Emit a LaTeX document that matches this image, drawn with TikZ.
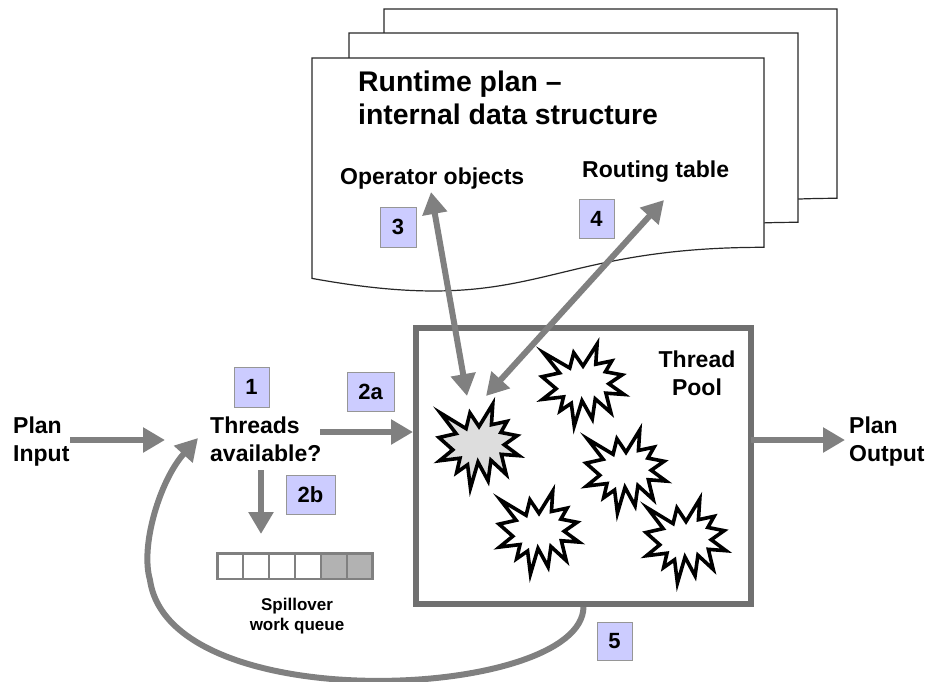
\documentclass[tikz,border=0pt]{standalone}
\usepackage{fontspec}
\setmainfont{Liberation Sans}
\usetikzlibrary{arrows.meta}
\definecolor{arrowgray}{RGB}{128,128,128}
\definecolor{poolgray}{RGB}{112,112,112}
\definecolor{numfill}{RGB}{204,204,255}
\definecolor{numborder}{RGB}{150,150,150}
\definecolor{qfill}{RGB}{178,178,178}
\definecolor{burstgray}{RGB}{221,221,221}
\definecolor{pageline}{RGB}{40,40,40}
\newcommand\burstshape[5]{%
  \begin{scope}[shift={(#1,#2)},xscale=#3/216,yscale=#4/216]
    \draw[burst,fill=#5] (108,58) -- (145.22,0) -- (141.55,53.25) -- (183.80,44.57) -- (167.02,73.15) -- (210.97,81.37) -- (176.07,104.75) -- (216,132.90) -- (168.37,129.42) -- (181.45,180.95) -- (140.20,144.57) -- (132.47,197.37) -- (105.32,149.35) -- (84.85,216) -- (77.15,156.27) -- (47.62,176.17) -- (56.67,139.37) -- (1.35,145.87) -- (37.22,117.75) -- (0,86.15) -- (46.27,76.17) -- (3.70,22.95) -- (73.12,63.20) -- (83.52,22.95) -- cycle;
  \end{scope}}
\newcommand\pageshape[3]{%
  \begin{scope}[shift={(#1,#2)}]
    \draw[pagestyle] (0,0) -- (#3,0) -- (#3,189.3) .. controls (#3/2,189.3) and (#3/2,261.3) .. (0,220.4) -- cycle;
  \end{scope}}
\tikzset{
  lbl/.style={inner sep=0, font=\bfseries\fontsize{23}{27.6}\selectfont},
  titlef/.style={inner sep=0, font=\bfseries\fontsize{28.4}{33}\selectfont},
  smalllbl/.style={inner sep=0, font=\bfseries\fontsize{17}{20}\selectfont},
  numbox/.style={draw=numborder, fill=numfill, line width=1, inner sep=0, font=\bfseries\fontsize{22}{26}\selectfont},
  qcell/.style={draw=arrowgray, line width=2.5, minimum width=25.9, minimum height=25.5, inner sep=0, outer sep=0},
  burst/.style={draw=black, line width=3.6, line join=miter},
  pagestyle/.style={draw=pageline, fill=white, line width=1.2},
  garrow/.style={draw=arrowgray, line width=6, -{Triangle[length=22pt,width=24pt]}},
  darrow/.style={draw=arrowgray, line width=6, {Triangle[length=22pt,width=24pt]}-{Triangle[length=22pt,width=24pt]}},
}
\begin{document}
\begin{tikzpicture}[x=1pt,y=-1pt]
\useasboundingbox (0,0) rectangle (925,681);
% stacked pages
\pageshape{384}{9}{453}
\pageshape{349}{33}{449}
\pageshape{312}{58}{452}
\node[titlef, anchor=north west, align=left] (title) at (358,71) {Runtime plan –\\internal data structure};
\node[lbl, anchor=base west] (ops) at (340,184) {Operator objects};
\node[lbl, anchor=base west] (rt) at (582,177) {Routing table};
\node[numbox, minimum width=36, minimum height=40] (n3) at (398,227) {3};
\node[numbox, minimum width=35, minimum height=39] (n4) at (596.5,218.5) {4};
% thread pool
\node[draw=poolgray, line width=6, minimum width=335, minimum height=276, inner sep=0] (pool) at (583.5,466) {};
\node[lbl, anchor=north, align=center] (tp) at (697,351) {Thread\\Pool};
\burstshape{542}{344}{82}{82}{white}
\burstshape{586}{430}{80}{83}{white}
\burstshape{499}{491}{80}{83}{white}
\burstshape{646}{499}{80}{84}{white}
\burstshape{439}{404}{80}{84}{burstgray}
% left side
\node[lbl, anchor=north west, align=left] (pin) at (13,417) {Plan\\Input};
\node[lbl, anchor=north west, align=left] (thr) at (210,417) {Threads\\available?};
\node[lbl, anchor=north west, align=left] (pout) at (849,417) {Plan\\Output};
\node[numbox, minimum width=35, minimum height=40] (n1) at (251.5,387) {1};
\node[numbox, minimum width=47, minimum height=39] (n2a) at (370.5,391.5) {2a};
\node[numbox, minimum width=49, minimum height=39] (n2b) at (310.5,494.5) {2b};
\node[numbox, minimum width=35, minimum height=38] (n5) at (614.5,641) {5};
% queue
\node[qcell, fill=white] (q1) at (230.2,566) {};
\node[qcell, fill=white] (q2) at (256.1,566) {};
\node[qcell, fill=white] (q3) at (282.0,566) {};
\node[qcell, fill=white] (q4) at (307.9,566) {};
\node[qcell, fill=qfill] (q5) at (333.8,566) {};
\node[qcell, fill=qfill] (q6) at (359.7,566) {};
\node[smalllbl, anchor=north, align=center] (spill) at (297,598) {Spillover\\work queue};
% connector end points
\coordinate (inS) at (70,440);
\coordinate (inE) at (165,440);
\coordinate (aS) at (320,432);
\coordinate (aE) at (413,432);
\coordinate (bS) at (261,470);
\coordinate (bE) at (261,534);
\coordinate (outS) at (751,440);
\coordinate (outE) at (845,440);
\coordinate (opTip) at (431,192);
\coordinate (gbA) at (467,396);
\coordinate (rtTip) at (664,200);
\coordinate (gbB) at (486,396);
\coordinate (loopTip) at (198,438);
% connectors
\draw[garrow] (inS) -- (inE);
\draw[garrow] (aS) -- (aE);
\draw[garrow] (bS) -- (bE);
\draw[garrow] (outS) -- (outE);
\draw[darrow] (gbA) -- (opTip);
\draw[darrow] (gbB) -- (rtTip);
\draw[garrow] (pool.south) .. controls (582,700) and (170,720) .. (150,580) .. controls (140,546) and (160,480) .. (loopTip);
\end{tikzpicture}
\end{document}
